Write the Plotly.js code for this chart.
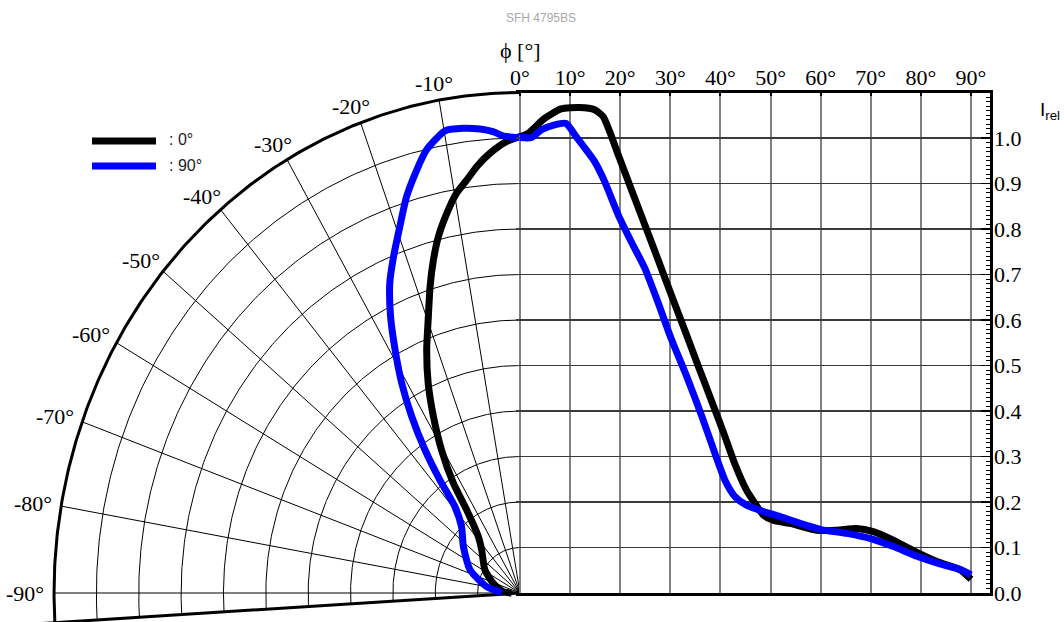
<!DOCTYPE html>
<html><head><meta charset="utf-8">
<script src="https://cdn.plot.ly/plotly-3.0.1.min.js"></script>
<style>html,body{margin:0;padding:0;background:#fff;} #chart{width:1064px;height:622px;}</style>
</head><body><div id="chart"></div>
<script>
// ---------------- data ----------------
const chartTitle = 'SFH 4795BS';
const seriesNames = [': 0°', ': 90°'];
const seriesColors = ['#000000', '#0000ff'];

// series ": 0°"  (angle phi in degrees, relative intensity)
const angle0 = [-90, -85.8, -71.3, -58.6, -43.7, -38.5, -34.6, -33.1, -30.5, -27.8,
  -25.2, -22.4, -19.6, -17.5, -15.6, -13.8, -11.7, -9.7, -7.9, -6.2,
  -4.2, -1.8, 0, 1.6, 4.9, 8.2, 11.9, 14.9, 16.6, 17.9,
  19.6, 21.6, 23.5, 26.2, 28.9, 31.0, 33.0, 35.6, 38.3, 40.6,
  42.9, 45.2, 46.9, 48.6, 50.5, 53.9, 59.2, 63.2, 67.2, 70.5,
  74.5, 78.5, 83.2, 87.8, 90];
const irel0 = [0.020, 0.040, 0.067, 0.097, 0.131, 0.158, 0.222, 0.288, 0.365, 0.438,
  0.509, 0.578, 0.645, 0.706, 0.760, 0.807, 0.852, 0.891, 0.916, 0.943,
  0.969, 0.993, 1.003, 1.010, 1.043, 1.064, 1.067, 1.062, 1.047, 1.014,
  0.963, 0.905, 0.850, 0.772, 0.693, 0.632, 0.574, 0.498, 0.420, 0.353,
  0.283, 0.226, 0.197, 0.171, 0.160, 0.153, 0.138, 0.138, 0.142, 0.135,
  0.116, 0.093, 0.069, 0.051, 0.030];

// series ": 90°"
const angle90 = [-89, -80, -66.8, -52.7, -43.4, -39.0, -37.3, -35.5, -33.4, -31.2,
  -28.9, -26.7, -24.3, -22.0, -19.4, -17.1, -14.7, -12.8, -11.1, -9.9,
  -7.5, -5.3, -3.6, -2.2, 0, 2.3, 4.3, 6.9, 9.2, 11.2,
  14.9, 16.9, 19.6, 22.2, 24.9, 27.5, 30.2, 33.3, 36.3, 38.9,
  40.9, 42.9, 45.2, 48.6, 51.9, 55.9, 59.9, 65.2, 69.8, 74.5,
  79.2, 83.8, 87.8, 90];
const irel90 = [0.043, 0.080, 0.128, 0.168, 0.201, 0.244, 0.312, 0.386, 0.464, 0.539,
  0.610, 0.680, 0.747, 0.797, 0.854, 0.911, 0.961, 0.998, 1.019, 1.031,
  1.030, 1.024, 1.016, 1.005, 1.001, 1.001, 1.018, 1.029, 1.032, 1.003,
  0.948, 0.904, 0.831, 0.772, 0.714, 0.640, 0.558, 0.475, 0.388, 0.307,
  0.248, 0.212, 0.193, 0.179, 0.168, 0.153, 0.140, 0.131, 0.120, 0.102,
  0.081, 0.064, 0.052, 0.040];

// tick labels
const phiTickVals = [0, 10, 20, 30, 40, 50, 60, 70, 80, 90];
const phiTickText = ['0°', '10°', '20°', '30°', '40°', '50°', '60°', '70°', '80°', '90°'];
const irelTickVals = [0, 0.1, 0.2, 0.3, 0.4, 0.5, 0.6, 0.7, 0.8, 0.9, 1.0];
const irelTickText = ['0.0', '0.1', '0.2', '0.3', '0.4', '0.5', '0.6', '0.7', '0.8', '0.9', '1.0'];
const polarTickAngles = [-10, -20, -30, -40, -50, -60, -70, -80, -90];
const polarTickText = ['-10°', '-20°', '-30°', '-40°', '-50°', '-60°', '-70°', '-80°', '-90°'];
const polarGridRadii = [0.1, 0.2, 0.3, 0.4, 0.5, 0.6, 0.7, 0.8, 0.9, 1.0];
const polarOuterRadius = 1.1;
const polarEdgeAngle = -93.4;
const phiAxisTitle = 'ϕ [°]';
const irelAxisTitle = 'I<sub>rel</sub>';

// ---------------- layout geometry ----------------
const W = 1064, H = 622;
const OX = 520, OY = 593;          // pixel position of the origin
const PXU = 423.6, PYU = 455;      // pixels per Irel unit (x, y)
const PHI_PX = 5.011;              // pixels per degree on the right side
const RIGHT_EDGE = 989.5;
const LEFT_PAD = 4;
const RAD = Math.PI / 180;
const SERIF = 'Liberation Serif, Times New Roman, serif';
const SANS = 'Liberation Sans, Arial, sans-serif';

function polarPts(angs, rs) {
  const x = [], y = [];
  for (let i = 0; i < angs.length; i++) {
    x.push(rs[i] * Math.sin(angs[i] * RAD));
    y.push(rs[i] * Math.cos(angs[i] * RAD));
  }
  return {x, y};
}
function arcAngles() {
  const a = [];
  for (let t = 0; t >= polarEdgeAngle; t -= 0.5) a.push(t);
  a.push(polarEdgeAngle);
  return a;
}

const traces = [];
// polar grid: thin circles
{
  const x = [], y = [];
  const angs = arcAngles();
  polarGridRadii.forEach(r => {
    const p = polarPts(angs, angs.map(() => r));
    x.push(...p.x, null); y.push(...p.y, null);
  });
  traces.push({x, y, xaxis: 'x', yaxis: 'y', mode: 'lines', hoverinfo: 'skip', showlegend: false,
    line: {color: '#000', width: 1}});
}
// polar grid: spokes
{
  const x = [], y = [];
  polarTickAngles.forEach(a => {
    const p = polarPts([a, a], [0, polarOuterRadius]);
    x.push(...p.x, null); y.push(...p.y, null);
  });
  traces.push({x, y, xaxis: 'x', yaxis: 'y', mode: 'lines', hoverinfo: 'skip', showlegend: false,
    line: {color: '#000', width: 1}});
}
// outer arc
{
  const angs = arcAngles();
  const p = polarPts(angs, angs.map(() => polarOuterRadius));
  traces.push({x: p.x, y: p.y, xaxis: 'x', yaxis: 'y', mode: 'lines', hoverinfo: 'skip', showlegend: false,
    line: {color: '#000', width: 3}});
}
// edge line
{
  const p = polarPts([polarEdgeAngle, polarEdgeAngle], [0, 1.3]);
  traces.push({x: p.x, y: p.y, xaxis: 'x', yaxis: 'y', mode: 'lines', hoverinfo: 'skip', showlegend: false,
    line: {color: '#000', width: 3}});
}

// curves
[[angle0, irel0], [angle90, irel90]].forEach((s, k) => {
  const la = [], lr = [], ra = [], rr = [];
  s[0].forEach((a, i) => {
    if (a <= 0) { la.push(a); lr.push(s[1][i]); }
    if (a >= 0) { ra.push(a); rr.push(s[1][i]); }
  });
  const p = polarPts(la, lr);
  traces.push({x: p.x, y: p.y, xaxis: 'x', yaxis: 'y', mode: 'lines', name: seriesNames[k],
    hoverinfo: 'skip', showlegend: false,
    line: {color: seriesColors[k], width: 7, shape: 'spline', smoothing: 0.6}});
  traces.push({x: ra, y: rr, xaxis: 'x2', yaxis: 'y2', mode: 'lines', name: seriesNames[k],
    hoverinfo: 'skip', showlegend: false,
    line: {color: seriesColors[k], width: 7, shape: 'spline', smoothing: 0.6}});
});

// annotations
const annotations = [];
polarTickAngles.forEach((a, i) => {
  const s = Math.abs(Math.sin(a * RAD)), c = Math.cos(a * RAD);
  const p = polarPts([a], [polarOuterRadius]);
  annotations.push({x: p.x[0], y: p.y[0], xref: 'x', yref: 'y', text: polarTickText[i],
    showarrow: false, xanchor: 'center', yanchor: 'middle',
    xshift: -s * 29, yshift: c * 17, font: {family: SERIF, size: 22, color: '#000'}});
});
annotations.push({x: OX / W, y: 1 - 51 / H, xref: 'paper', yref: 'paper', text: phiAxisTitle,
  showarrow: false, xanchor: 'center', yanchor: 'middle', font: {family: SERIF, size: 22, color: '#000'}});
annotations.push({x: 1038 / W, y: 1 - 111 / H, xref: 'paper', yref: 'paper', text: irelAxisTitle,
  showarrow: false, xanchor: 'left', yanchor: 'middle', font: {family: SANS, size: 19, color: '#000'}});

// legend
const shapes = [];
const legendY = [141, 166];
seriesNames.forEach((n, k) => {
  shapes.push({type: 'line', xref: 'paper', yref: 'paper', x0: 92 / W, x1: 156 / W,
    y0: 1 - legendY[k] / H, y1: 1 - legendY[k] / H, line: {color: seriesColors[k], width: 7}});
  annotations.push({x: 167 / W, y: 1 - (legendY[k] - 1) / H, xref: 'paper', yref: 'paper', text: n,
    showarrow: false, xanchor: 'left', yanchor: 'middle', font: {family: SANS, size: 16, color: '#222'}});
});

const layout = {
  width: W, height: H,
  margin: {l: 0, r: 0, t: 0, b: 0, pad: 0},
  paper_bgcolor: '#fff', plot_bgcolor: 'rgba(0,0,0,0)',
  hovermode: false, showlegend: false,
  font: {family: SERIF, size: 22, color: '#000'},
  title: {text: chartTitle, font: {family: SANS, size: 12, color: '#a8a8a8'},
    x: 541 / W, xref: 'paper', xanchor: 'center', y: 1 - 18 / H, yref: 'paper', yanchor: 'middle'},
  xaxis: {domain: [0, 1], range: [-OX / PXU, (W - OX) / PXU], visible: false, fixedrange: true},
  yaxis: {domain: [0, 1], range: [-(H - OY) / PYU, OY / PYU], visible: false, fixedrange: true},
  xaxis2: {domain: [(OX - LEFT_PAD) / W, RIGHT_EDGE / W],
    range: [-LEFT_PAD / PHI_PX, (RIGHT_EDGE - OX) / PHI_PX],
    anchor: 'y2', side: 'top', tickmode: 'array', tickvals: phiTickVals, ticktext: phiTickText,
    ticks: 'inside', ticklen: 3, tickwidth: 2, tickcolor: '#000',
    showgrid: true, gridcolor: '#808080', gridwidth: 2, zeroline: false,
    showline: true, linecolor: '#000', linewidth: 3, mirror: true,
    ticklabelstandoff: -4,
    tickfont: {family: SERIF, size: 22, color: '#000'}, fixedrange: true},
  yaxis2: {domain: [(H - OY) / H, (H - OY + polarOuterRadius * PYU) / H],
    range: [0, polarOuterRadius],
    anchor: 'x2', side: 'right', tickmode: 'array', tickvals: irelTickVals, ticktext: irelTickText,
    ticks: 'inside', ticklen: 9, tickwidth: 1.5, tickcolor: '#000',
    minor: {tickmode: 'linear', tick0: 0, dtick: 0.01, ticks: 'inside', ticklen: 4, tickwidth: 1, tickcolor: '#000', showgrid: false},
    showgrid: true, gridcolor: '#3a3a3a', gridwidth: 1.5, zeroline: false,
    showline: true, linecolor: '#000', linewidth: 3,
    ticklabelstandoff: -3,
    tickfont: {family: SERIF, size: 22, color: '#000'}, fixedrange: true},
  annotations, shapes
};

Plotly.newPlot('chart', traces, layout, {displayModeBar: false, staticPlot: true});
</script>
</body></html>
